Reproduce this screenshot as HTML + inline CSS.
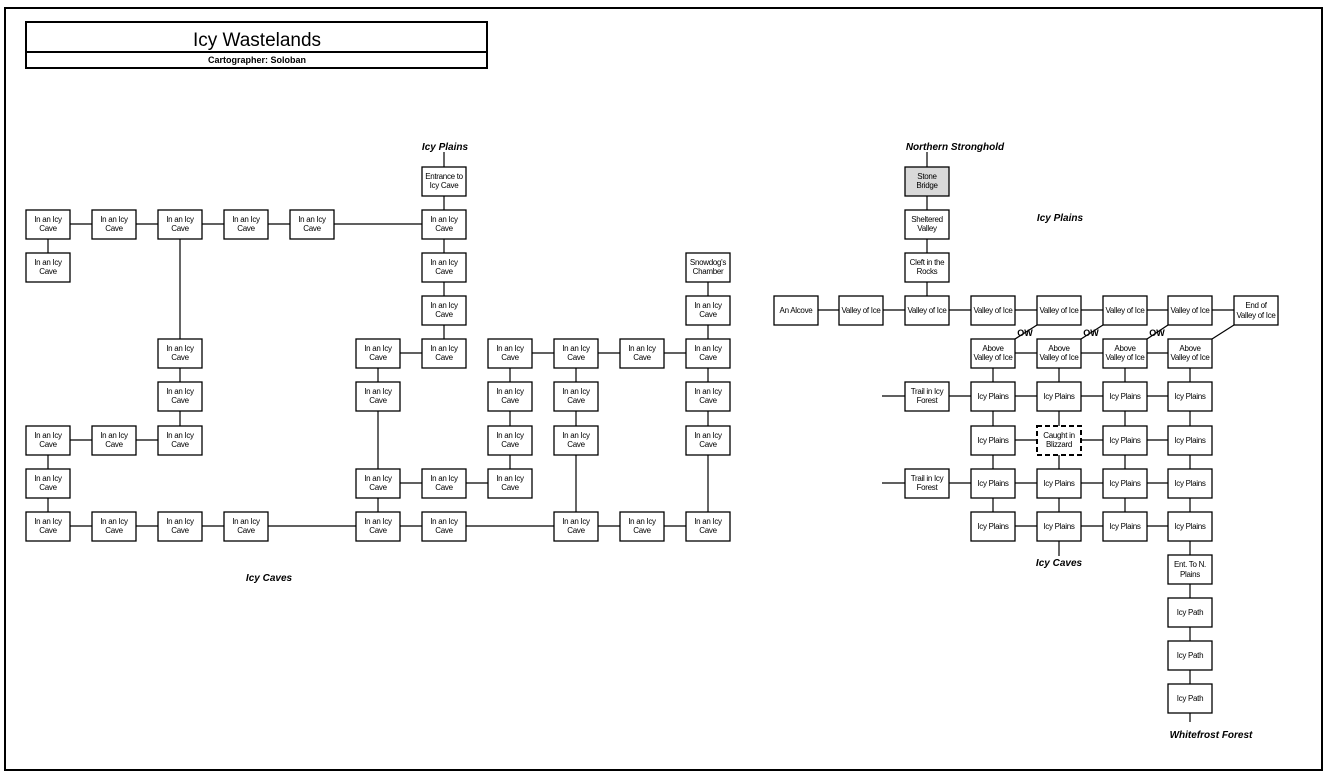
<!DOCTYPE html>
<html><head><meta charset="utf-8"><style>
html,body{margin:0;padding:0;background:#fff;}
svg{display:block;}
.b{fill:#fff;stroke:#000;stroke-width:1.3;}
.t{font-family:"Liberation Sans",Arial,sans-serif;font-size:8px;text-anchor:middle;letter-spacing:-0.3px;}
.l{font-family:"Liberation Sans",sans-serif;font-size:10px;font-weight:bold;font-style:italic;text-anchor:middle;}
line{stroke:#000;stroke-width:1.2;}
</style></head><body>
<svg width="1336" height="782" viewBox="0 0 1336 782" xmlns="http://www.w3.org/2000/svg">
<rect x="5" y="8" width="1317" height="762" fill="none" stroke="#000" stroke-width="2"/>
<rect x="26" y="22" width="461" height="46" fill="none" stroke="#000" stroke-width="2"/>
<line x1="26" y1="52" x2="487" y2="52" style="stroke-width:2"/>
<text x="257" y="46" font-family="Liberation Sans,sans-serif" font-size="19" text-anchor="middle">Icy Wastelands</text>
<text x="257" y="63" font-family="Liberation Sans,sans-serif" font-size="9" font-weight="bold" text-anchor="middle">Cartographer: Soloban</text>

<!-- left lines -->
<line x1="48" y1="224" x2="444" y2="224"/>
<line x1="48" y1="224" x2="48" y2="267"/>
<line x1="444" y1="152" x2="444" y2="353"/>
<line x1="180" y1="224" x2="180" y2="440"/>
<line x1="708" y1="267" x2="708" y2="526"/>
<line x1="378" y1="353" x2="444" y2="353"/>
<line x1="510" y1="353" x2="708" y2="353"/>
<line x1="378" y1="353" x2="378" y2="526"/>
<line x1="510" y1="353" x2="510" y2="483"/>
<line x1="576" y1="353" x2="576" y2="526"/>
<line x1="48" y1="440" x2="180" y2="440"/>
<line x1="48" y1="440" x2="48" y2="526"/>
<line x1="378" y1="483" x2="510" y2="483"/>
<line x1="48" y1="526" x2="708" y2="526"/>

<!-- right lines -->
<line x1="927" y1="152" x2="927" y2="310"/>
<line x1="796" y1="310" x2="1256" y2="310"/>
<line x1="1037" y1="325" x2="1015" y2="339"/>
<line x1="1103" y1="325" x2="1081" y2="339"/>
<line x1="1168" y1="325" x2="1147" y2="339"/>
<line x1="1234" y1="325" x2="1212" y2="339"/>
<line x1="993" y1="353" x2="1190" y2="353"/>
<line x1="993" y1="353" x2="993" y2="526"/>
<line x1="1059" y1="353" x2="1059" y2="556"/>
<line x1="1125" y1="353" x2="1125" y2="526"/>
<line x1="1190" y1="353" x2="1190" y2="722"/>
<line x1="882" y1="396" x2="1190" y2="396"/>
<line x1="993" y1="440" x2="1190" y2="440"/>
<line x1="882" y1="483" x2="1190" y2="483"/>
<line x1="993" y1="526" x2="1190" y2="526"/>

<!-- labels -->
<text class="l" x="445" y="150">Icy Plains</text>
<text class="l" x="269" y="581">Icy Caves</text>
<text class="l" x="955" y="150">Northern Stronghold</text>
<text class="l" x="1060" y="221">Icy Plains</text>
<text class="l" x="1059" y="566">Icy Caves</text>
<text class="l" x="1211" y="738">Whitefrost Forest</text>
<text x="1025" y="336" font-family="Liberation Sans,sans-serif" font-size="9" font-weight="bold" text-anchor="middle">OW</text>
<text x="1091" y="336" font-family="Liberation Sans,sans-serif" font-size="9" font-weight="bold" text-anchor="middle">OW</text>
<text x="1157" y="336" font-family="Liberation Sans,sans-serif" font-size="9" font-weight="bold" text-anchor="middle">OW</text>

<!-- left boxes -->
<g>
<rect class="b" x="422" y="167" width="44" height="29"/><text class="t" x="444" y="179">Entrance to</text><text class="t" x="444" y="188">Icy Cave</text>

<rect class="b" x="26" y="210" width="44" height="29"/><text class="t" x="48" y="222">In an Icy</text><text class="t" x="48" y="231">Cave</text>
<rect class="b" x="92" y="210" width="44" height="29"/><text class="t" x="114" y="222">In an Icy</text><text class="t" x="114" y="231">Cave</text>
<rect class="b" x="158" y="210" width="44" height="29"/><text class="t" x="180" y="222">In an Icy</text><text class="t" x="180" y="231">Cave</text>
<rect class="b" x="224" y="210" width="44" height="29"/><text class="t" x="246" y="222">In an Icy</text><text class="t" x="246" y="231">Cave</text>
<rect class="b" x="290" y="210" width="44" height="29"/><text class="t" x="312" y="222">In an Icy</text><text class="t" x="312" y="231">Cave</text>
<rect class="b" x="422" y="210" width="44" height="29"/><text class="t" x="444" y="222">In an Icy</text><text class="t" x="444" y="231">Cave</text>

<rect class="b" x="26" y="253" width="44" height="29"/><text class="t" x="48" y="265">In an Icy</text><text class="t" x="48" y="274">Cave</text>
<rect class="b" x="422" y="253" width="44" height="29"/><text class="t" x="444" y="265">In an Icy</text><text class="t" x="444" y="274">Cave</text>
<rect class="b" x="686" y="253" width="44" height="29"/><text class="t" x="708" y="265">Snowdog's</text><text class="t" x="708" y="274">Chamber</text>

<rect class="b" x="422" y="296" width="44" height="29"/><text class="t" x="444" y="308">In an Icy</text><text class="t" x="444" y="317">Cave</text>
<rect class="b" x="686" y="296" width="44" height="29"/><text class="t" x="708" y="308">In an Icy</text><text class="t" x="708" y="317">Cave</text>

<rect class="b" x="158" y="339" width="44" height="29"/><text class="t" x="180" y="351">In an Icy</text><text class="t" x="180" y="360">Cave</text>
<rect class="b" x="356" y="339" width="44" height="29"/><text class="t" x="378" y="351">In an Icy</text><text class="t" x="378" y="360">Cave</text>
<rect class="b" x="422" y="339" width="44" height="29"/><text class="t" x="444" y="351">In an Icy</text><text class="t" x="444" y="360">Cave</text>
<rect class="b" x="488" y="339" width="44" height="29"/><text class="t" x="510" y="351">In an Icy</text><text class="t" x="510" y="360">Cave</text>
<rect class="b" x="554" y="339" width="44" height="29"/><text class="t" x="576" y="351">In an Icy</text><text class="t" x="576" y="360">Cave</text>
<rect class="b" x="620" y="339" width="44" height="29"/><text class="t" x="642" y="351">In an Icy</text><text class="t" x="642" y="360">Cave</text>
<rect class="b" x="686" y="339" width="44" height="29"/><text class="t" x="708" y="351">In an Icy</text><text class="t" x="708" y="360">Cave</text>

<rect class="b" x="158" y="382" width="44" height="29"/><text class="t" x="180" y="394">In an Icy</text><text class="t" x="180" y="403">Cave</text>
<rect class="b" x="356" y="382" width="44" height="29"/><text class="t" x="378" y="394">In an Icy</text><text class="t" x="378" y="403">Cave</text>
<rect class="b" x="488" y="382" width="44" height="29"/><text class="t" x="510" y="394">In an Icy</text><text class="t" x="510" y="403">Cave</text>
<rect class="b" x="554" y="382" width="44" height="29"/><text class="t" x="576" y="394">In an Icy</text><text class="t" x="576" y="403">Cave</text>
<rect class="b" x="686" y="382" width="44" height="29"/><text class="t" x="708" y="394">In an Icy</text><text class="t" x="708" y="403">Cave</text>

<rect class="b" x="26" y="426" width="44" height="29"/><text class="t" x="48" y="438">In an Icy</text><text class="t" x="48" y="447">Cave</text>
<rect class="b" x="92" y="426" width="44" height="29"/><text class="t" x="114" y="438">In an Icy</text><text class="t" x="114" y="447">Cave</text>
<rect class="b" x="158" y="426" width="44" height="29"/><text class="t" x="180" y="438">In an Icy</text><text class="t" x="180" y="447">Cave</text>
<rect class="b" x="488" y="426" width="44" height="29"/><text class="t" x="510" y="438">In an Icy</text><text class="t" x="510" y="447">Cave</text>
<rect class="b" x="554" y="426" width="44" height="29"/><text class="t" x="576" y="438">In an Icy</text><text class="t" x="576" y="447">Cave</text>
<rect class="b" x="686" y="426" width="44" height="29"/><text class="t" x="708" y="438">In an Icy</text><text class="t" x="708" y="447">Cave</text>

<rect class="b" x="26" y="469" width="44" height="29"/><text class="t" x="48" y="481">In an Icy</text><text class="t" x="48" y="490">Cave</text>
<rect class="b" x="356" y="469" width="44" height="29"/><text class="t" x="378" y="481">In an Icy</text><text class="t" x="378" y="490">Cave</text>
<rect class="b" x="422" y="469" width="44" height="29"/><text class="t" x="444" y="481">In an Icy</text><text class="t" x="444" y="490">Cave</text>
<rect class="b" x="488" y="469" width="44" height="29"/><text class="t" x="510" y="481">In an Icy</text><text class="t" x="510" y="490">Cave</text>

<rect class="b" x="26" y="512" width="44" height="29"/><text class="t" x="48" y="524">In an Icy</text><text class="t" x="48" y="533">Cave</text>
<rect class="b" x="92" y="512" width="44" height="29"/><text class="t" x="114" y="524">In an Icy</text><text class="t" x="114" y="533">Cave</text>
<rect class="b" x="158" y="512" width="44" height="29"/><text class="t" x="180" y="524">In an Icy</text><text class="t" x="180" y="533">Cave</text>
<rect class="b" x="224" y="512" width="44" height="29"/><text class="t" x="246" y="524">In an Icy</text><text class="t" x="246" y="533">Cave</text>
<rect class="b" x="356" y="512" width="44" height="29"/><text class="t" x="378" y="524">In an Icy</text><text class="t" x="378" y="533">Cave</text>
<rect class="b" x="422" y="512" width="44" height="29"/><text class="t" x="444" y="524">In an Icy</text><text class="t" x="444" y="533">Cave</text>
<rect class="b" x="554" y="512" width="44" height="29"/><text class="t" x="576" y="524">In an Icy</text><text class="t" x="576" y="533">Cave</text>
<rect class="b" x="620" y="512" width="44" height="29"/><text class="t" x="642" y="524">In an Icy</text><text class="t" x="642" y="533">Cave</text>
<rect class="b" x="686" y="512" width="44" height="29"/><text class="t" x="708" y="524">In an Icy</text><text class="t" x="708" y="533">Cave</text>
</g>

<!-- right boxes -->
<g>
<rect x="905" y="167" width="44" height="29" fill="#d9d9d9" stroke="#000" stroke-width="1.3"/><text class="t" x="927" y="179">Stone</text><text class="t" x="927" y="188">Bridge</text>
<rect class="b" x="905" y="210" width="44" height="29"/><text class="t" x="927" y="222">Sheltered</text><text class="t" x="927" y="231">Valley</text>
<rect class="b" x="905" y="253" width="44" height="29"/><text class="t" x="927" y="265">Cleft in the</text><text class="t" x="927" y="274">Rocks</text>

<rect class="b" x="774" y="296" width="44" height="29"/><text class="t" x="796" y="313">An Alcove</text>
<rect class="b" x="839" y="296" width="44" height="29"/><text class="t" x="861" y="313">Valley of Ice</text>
<rect class="b" x="905" y="296" width="44" height="29"/><text class="t" x="927" y="313">Valley of Ice</text>
<rect class="b" x="971" y="296" width="44" height="29"/><text class="t" x="993" y="313">Valley of Ice</text>
<rect class="b" x="1037" y="296" width="44" height="29"/><text class="t" x="1059" y="313">Valley of Ice</text>
<rect class="b" x="1103" y="296" width="44" height="29"/><text class="t" x="1125" y="313">Valley of Ice</text>
<rect class="b" x="1168" y="296" width="44" height="29"/><text class="t" x="1190" y="313">Valley of Ice</text>
<rect class="b" x="1234" y="296" width="44" height="29"/><text class="t" x="1256" y="308">End of</text><text class="t" x="1256" y="318">Valley of Ice</text>

<rect class="b" x="971" y="339" width="44" height="29"/><text class="t" x="993" y="351">Above</text><text class="t" x="993" y="360">Valley of Ice</text>
<rect class="b" x="1037" y="339" width="44" height="29"/><text class="t" x="1059" y="351">Above</text><text class="t" x="1059" y="360">Valley of Ice</text>
<rect class="b" x="1103" y="339" width="44" height="29"/><text class="t" x="1125" y="351">Above</text><text class="t" x="1125" y="360">Valley of Ice</text>
<rect class="b" x="1168" y="339" width="44" height="29"/><text class="t" x="1190" y="351">Above</text><text class="t" x="1190" y="360">Valley of Ice</text>

<rect class="b" x="905" y="382" width="44" height="29"/><text class="t" x="927" y="394">Trail in Icy</text><text class="t" x="927" y="403">Forest</text>
<rect class="b" x="971" y="382" width="44" height="29"/><text class="t" x="993" y="399">Icy Plains</text>
<rect class="b" x="1037" y="382" width="44" height="29"/><text class="t" x="1059" y="399">Icy Plains</text>
<rect class="b" x="1103" y="382" width="44" height="29"/><text class="t" x="1125" y="399">Icy Plains</text>
<rect class="b" x="1168" y="382" width="44" height="29"/><text class="t" x="1190" y="399">Icy Plains</text>

<rect class="b" x="971" y="426" width="44" height="29"/><text class="t" x="993" y="443">Icy Plains</text>
<rect x="1037" y="426" width="44" height="29" fill="#fff" stroke="#000" stroke-width="2" stroke-dasharray="5,3"/><text class="t" x="1059" y="438">Caught in</text><text class="t" x="1059" y="447">Blizzard</text>
<rect class="b" x="1103" y="426" width="44" height="29"/><text class="t" x="1125" y="443">Icy Plains</text>
<rect class="b" x="1168" y="426" width="44" height="29"/><text class="t" x="1190" y="443">Icy Plains</text>

<rect class="b" x="905" y="469" width="44" height="29"/><text class="t" x="927" y="481">Trail in Icy</text><text class="t" x="927" y="490">Forest</text>
<rect class="b" x="971" y="469" width="44" height="29"/><text class="t" x="993" y="486">Icy Plains</text>
<rect class="b" x="1037" y="469" width="44" height="29"/><text class="t" x="1059" y="486">Icy Plains</text>
<rect class="b" x="1103" y="469" width="44" height="29"/><text class="t" x="1125" y="486">Icy Plains</text>
<rect class="b" x="1168" y="469" width="44" height="29"/><text class="t" x="1190" y="486">Icy Plains</text>

<rect class="b" x="971" y="512" width="44" height="29"/><text class="t" x="993" y="529">Icy Plains</text>
<rect class="b" x="1037" y="512" width="44" height="29"/><text class="t" x="1059" y="529">Icy Plains</text>
<rect class="b" x="1103" y="512" width="44" height="29"/><text class="t" x="1125" y="529">Icy Plains</text>
<rect class="b" x="1168" y="512" width="44" height="29"/><text class="t" x="1190" y="529">Icy Plains</text>

<rect class="b" x="1168" y="555" width="44" height="29"/><text class="t" x="1190" y="567">Ent. To N.</text><text class="t" x="1190" y="577">Plains</text>
<rect class="b" x="1168" y="598" width="44" height="29"/><text class="t" x="1190" y="615">Icy Path</text>
<rect class="b" x="1168" y="641" width="44" height="29"/><text class="t" x="1190" y="658">Icy Path</text>
<rect class="b" x="1168" y="684" width="44" height="29"/><text class="t" x="1190" y="701">Icy Path</text>
</g>
</svg>
</body></html>
